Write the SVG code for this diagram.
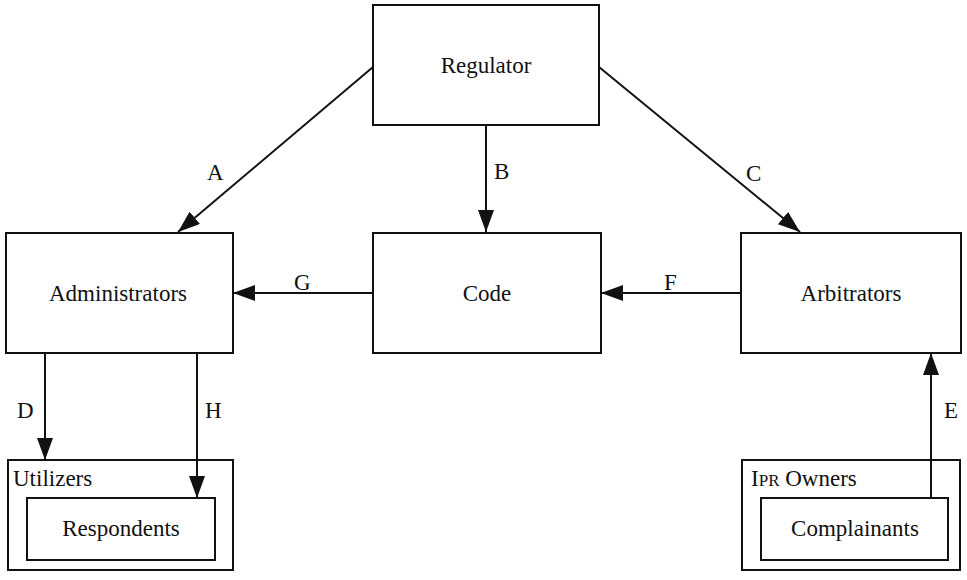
<svg xmlns="http://www.w3.org/2000/svg" width="967" height="580" viewBox="0 0 967 580">
<style>
.box{fill:#fff;stroke:#111;stroke-width:2}
.t{font-family:'Liberation Serif','Times New Roman',serif;font-size:23px;fill:#111}
.c{text-anchor:middle}
.edge{stroke:#111;stroke-width:2;fill:none}
</style>
<defs>
<marker id="ah" markerWidth="22" markerHeight="16" refX="22" refY="8" orient="auto" markerUnits="userSpaceOnUse">
<path d="M0,0 L22,8 L0,16 Z" fill="#111"/>
</marker>
</defs>
<rect width="967" height="580" fill="#fff"/>
<g id="regulator"><rect class="box" x="373" y="5" width="226" height="120"/><text class="t c" x="486" y="73">Regulator</text></g>
<g id="administrators"><rect class="box" x="6" y="233" width="227" height="120"/><text class="t c" x="118" y="301">Administrators</text></g>
<g id="code"><rect class="box" x="373" y="233" width="228" height="120"/><text class="t c" x="487" y="301">Code</text></g>
<g id="arbitrators"><rect class="box" x="741" y="233" width="220" height="120"/><text class="t c" x="851" y="301">Arbitrators</text></g>
<g id="utilizers"><rect class="box" x="8" y="460" width="225" height="110"/><text class="t" x="13" y="486">Utilizers</text></g>
<g id="respondents"><rect class="box" x="27" y="498" width="188" height="62"/><text class="t c" x="121" y="536">Respondents</text></g>
<g id="ipr-owners"><rect class="box" x="742" y="460" width="218" height="110"/><text class="t" x="751" y="486">I<tspan font-size="17">PR</tspan> Owners</text></g>
<g id="complainants"><rect class="box" x="761" y="498" width="187" height="62"/><text class="t c" x="855" y="536">Complainants</text></g>
<g id="connectors">
<line class="edge" x1="373" y1="67" x2="178" y2="232" marker-end="url(#ah)"/>
<line class="edge" x1="486" y1="125" x2="486" y2="232" marker-end="url(#ah)"/>
<line class="edge" x1="599" y1="67" x2="800" y2="232" marker-end="url(#ah)"/>
<line class="edge" x1="373" y1="293" x2="233" y2="293" marker-end="url(#ah)"/>
<line class="edge" x1="741" y1="293" x2="601" y2="293" marker-end="url(#ah)"/>
<line class="edge" x1="45" y1="353" x2="45" y2="460" marker-end="url(#ah)"/>
<line class="edge" x1="197" y1="353" x2="197" y2="498" marker-end="url(#ah)"/>
<line class="edge" x1="931" y1="498" x2="931" y2="353" marker-end="url(#ah)"/>
<text class="t" x="207" y="180">A</text>
<text class="t" x="494" y="179">B</text>
<text class="t" x="746" y="181">C</text>
<text class="t" x="17" y="418">D</text>
<text class="t" x="205" y="418">H</text>
<text class="t" x="944" y="418">E</text>
<text class="t" x="294" y="290">G</text>
<text class="t" x="664" y="290">F</text>
</g>
</svg>
